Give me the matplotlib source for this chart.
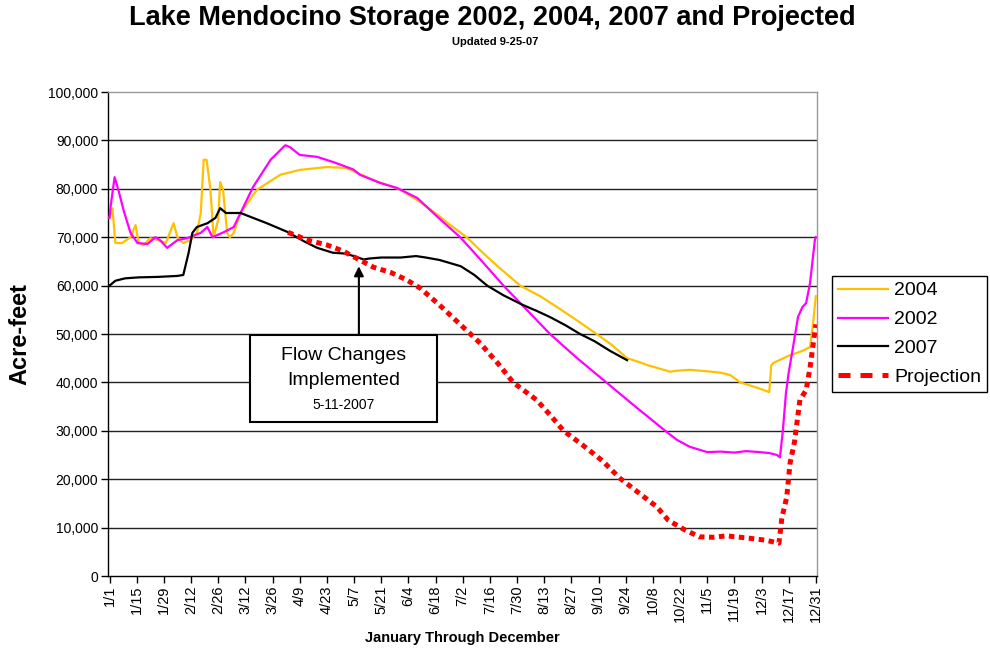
import matplotlib
matplotlib.use("Agg")
import matplotlib.pyplot as plt
from matplotlib.patches import Rectangle
from matplotlib.lines import Line2D

plt.rcParams['font.family'] = ['Liberation Sans', 'DejaVu Sans']

# ---- data (day of year, acre-feet) ----
tick_days = list(range(0, 365, 14))
tick_labels = ["1/1", "1/15", "1/29", "2/12", "2/26", "3/12", "3/26", "4/9", "4/23",
               "5/7", "5/21", "6/4", "6/18", "7/2", "7/16", "7/30", "8/13", "8/27",
               "9/10", "9/24", "10/8", "10/22", "11/5", "11/19", "12/3", "12/17", "12/31"]

days_2004 = [0, 1.5, 3, 6.5, 10.8, 13.4, 15, 17.6, 21, 25, 29, 33, 35, 38, 41.7, 45, 47, 48.5,
             50, 52, 53.6, 56, 57, 58.5, 60.6, 62, 64, 67.5, 76, 88, 98, 112, 122, 136, 150,
             160, 170.5, 174, 184, 192.6, 200, 211.6, 222, 232, 242, 251, 259, 266.7, 273,
             277, 289, 292, 299, 308, 315, 320, 325, 333, 340, 341, 342, 350, 357, 361,
             362.5, 364]
vals_2004 = [74000, 76000, 68800, 68800, 70000, 72500, 68800, 68400, 69800, 69400, 68800,
             72900, 70000, 68800, 69400, 70900, 75000, 86000, 86000, 79800, 70000, 73600,
             81400, 79800, 70900, 70000, 70900, 75000, 79800, 82900, 83900, 84500, 84300,
             81800, 79800, 77300, 74200, 73000, 70000, 66700, 64000, 60000, 57800, 55200,
             52500, 50000, 47700, 45000, 44200, 43600, 42200, 42400, 42600, 42300, 42000,
             41500, 40000, 39000, 38000, 43500, 44000, 45500, 46500, 47300, 52000, 57800]

days_2002 = [0, 0.5, 2.6, 4.6, 7.2, 10.8, 14.4, 19.5, 23.7, 26, 29.7, 35, 40, 47, 50.4, 53,
             58.7, 64, 67.5, 74, 83, 90.6, 93, 98, 107, 115.5, 125.6, 129, 139.5, 148,
             158.6, 169, 180.7, 192, 203, 215, 227, 241, 256, 271, 287, 292.5, 299, 308,
             315, 322, 328, 335, 340, 344, 345.5, 347, 348.6, 350, 352, 354.8, 357, 359,
             361, 363.5, 364]
vals_2002 = [74000, 76200, 82400, 79700, 75600, 70900, 68800, 68600, 70000, 69400, 67800,
             69400, 69800, 70900, 72100, 70000, 71000, 72100, 75000, 80400, 86000, 89000,
             88600, 87000, 86600, 85500, 84000, 82900, 81200, 80200, 78100, 74200, 70000,
             65000, 60000, 55000, 50000, 45000, 40000, 35000, 29800, 28100, 26700, 25600,
             25700, 25500, 25800, 25600, 25400, 25000, 24500, 30000, 37800, 42000, 46700,
             53500, 55500, 56400, 60500, 69400, 70000]

days_2007 = [0, 3, 8, 15, 25, 35, 38, 40.7, 42.7, 45, 50.5, 54.6, 57, 60, 67.5, 81, 91.6,
             100, 107, 115, 122, 128, 131, 134, 140, 150, 158, 163, 170, 181, 188, 194.6,
             203, 213, 220, 227, 235, 242.5, 250, 258, 266.7]
vals_2007 = [60000, 61000, 61500, 61700, 61800, 62000, 62200, 66700, 70900, 72100, 72900,
             74000, 76000, 75000, 75000, 72900, 71100, 69200, 67800, 66800, 66600, 65800,
             65400, 65600, 65800, 65800, 66100, 65800, 65300, 64000, 62200, 60000, 58000,
             56000, 54800, 53500, 51800, 50000, 48500, 46500, 44600]

days_proj = [92, 102, 112, 120, 128, 136, 145, 153, 160, 170, 178, 186, 191, 200, 208, 214,
             220, 227, 234, 244, 254, 263, 273, 282, 288, 296.6, 304, 311, 318, 325, 332,
             338, 345, 346.5, 349, 350.7, 353, 355.8, 359, 361, 363.5, 364]
vals_proj = [71000, 69400, 68400, 67200, 65500, 63800, 62700, 61200, 59500, 56000, 53000,
             50000, 48100, 44000, 40000, 38200, 36400, 33300, 30000, 27000, 23800, 20200,
             17100, 14300, 11500, 9500, 8100, 8000, 8300, 8000, 7700, 7400, 6800, 12000,
             16300, 23300, 27700, 36400, 38400, 43000, 50500, 52000]

# ---- figure ----
fig = plt.figure(figsize=(9.9, 6.51), dpi=100)
ax = fig.add_axes([108/990, 1 - 576/651, (817-108)/990, (576-92)/651])

l04, = ax.plot(days_2004, vals_2004, color='#FFC000', lw=1.6, label='2004', zorder=3)
l02, = ax.plot(days_2002, vals_2002, color='#FF00FF', lw=1.6, label='2002', zorder=3)
l07, = ax.plot(days_2007, vals_2007, color='black', lw=1.6, label='2007', zorder=4)
ax.plot(days_proj, vals_proj, color='#FF0000', lw=3.6, ls=(0, (1.1, 0.9)),
        label='Projection', zorder=5)

ax.set_xlim(-0.8, 364.6)
ax.set_ylim(0, 100000)
ax.set_yticks(range(0, 100001, 10000))
ax.set_yticklabels([f"{v:,}" for v in range(0, 100001, 10000)], fontsize=10)
ax.set_xticks(tick_days)
ax.set_xticklabels(tick_labels, rotation=90, fontsize=10.5)
ax.tick_params(axis='both', direction='out', length=5, width=1, color='black', pad=2)

for v in range(10000, 100000, 10000):
    ax.axhline(v, color='#222222', lw=1, zorder=1)

ax.spines['left'].set_color('black')
ax.spines['bottom'].set_color('black')
ax.spines['top'].set_color('#999999')
ax.spines['right'].set_color('#999999')
for s in ax.spines.values():
    s.set_linewidth(1)

ax.set_ylabel('Acre-feet', fontsize=17, fontweight='bold')
ax.yaxis.set_label_coords((31 - 108) / 709, 0.5)
ax.set_xlabel('January Through December', fontsize=10.5, fontweight='bold')
ax.xaxis.set_label_coords(0.5, (576 - 631) / 484)

fig.text(0.497, 1 - 18/651, 'Lake Mendocino Storage 2002, 2004, 2007 and Projected',
         ha='center', va='center', fontsize=19.5, fontweight='bold')
fig.text(0.5, 1 - 42/651, 'Updated 9-25-07', ha='center', va='center',
         fontsize=8, fontweight='bold')

# annotation box
box = Rectangle((72.6, 31800), 169 - 72.6, 49800 - 31800, facecolor='white',
                edgecolor='black', lw=1.5, zorder=6)
ax.add_patch(box)
cx = (72.6 + 169) / 2
ax.text(cx, 45600, 'Flow Changes', ha='center', va='center', fontsize=14, zorder=7)
ax.text(cx, 40400, 'Implemented', ha='center', va='center', fontsize=14, zorder=7)
ax.text(cx, 35400, '5-11-2007', ha='center', va='center', fontsize=10, zorder=7)
ax.annotate('', xy=(128.5, 64000), xytext=(128.5, 49800),
            arrowprops=dict(arrowstyle='-|>', color='black', lw=1.5,
                            mutation_scale=14, shrinkA=0, shrinkB=0), zorder=7)

proj_handle = Line2D([], [], color='#FF0000', lw=3.6, ls=(0, (2.4, 2.0)))
leg = fig.legend(handles=[l04, l02, l07, proj_handle],
                 labels=['2004', '2002', '2007', 'Projection'],
                 loc='upper left', bbox_to_anchor=(832/990, 1 - 276/651), fontsize=14,
                 frameon=True, fancybox=False, edgecolor='black', framealpha=1,
                 handlelength=2.6, handletextpad=0.3, labelspacing=0.58,
                 borderpad=0.3, borderaxespad=0)
leg.get_frame().set_linewidth(1)

fig.savefig('out.png', dpi=100)
